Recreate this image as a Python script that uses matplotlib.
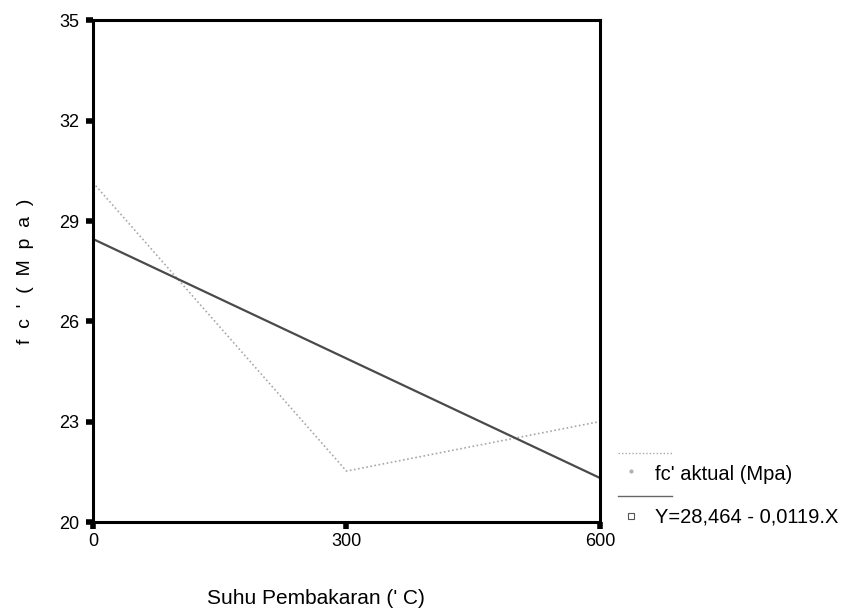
import matplotlib
matplotlib.use("Agg")
import matplotlib.pyplot as plt
from matplotlib.lines import Line2D

# suhu pembakaran (C) dan kuat tekan aktual (MPa)
suhu = [0, 300, 600]
fc_aktual = [30.15, 21.53, 23.01]

# garis regresi Y = 28,464 - 0,0119.X
a_reg = 28.464
b_reg = -0.0119
fc_regresi = [a_reg + b_reg * s for s in suhu]

yticks = [20, 23, 26, 29, 32, 35]
xticks = [0, 300, 600]

plt.rcParams['font.family'] = ['Liberation Sans', 'DejaVu Sans']

fig = plt.figure(figsize=(8.45, 6.13), dpi=100)
ax = fig.add_axes([0.110, 0.148, 0.600, 0.819])

ax.plot(suhu, fc_aktual, color='#a8a8a8', lw=1.2, ls=(0, (1, 1.5)))
ax.plot(suhu, fc_regresi, color='#4a4a4a', lw=1.6)

ax.set_xlim(0, 600)
ax.set_ylim(20, 35)
ax.set_xticks(xticks)
ax.set_yticks(yticks)
ax.tick_params(direction='out', length=5, width=4, color='black',
               labelsize=13, pad=3)
ax.tick_params(axis='y', pad=5)
for sp in ax.spines.values():
    sp.set_linewidth(2.2)
    sp.set_color('black')

ax.set_ylabel("f  c  '  (  M  p  a  )", fontsize=14, va='center')
ax.yaxis.set_label_coords(-0.134, 0.5)
ax.set_xlabel("Suhu Pembakaran (' C)", fontsize=15, va='center')
ax.xaxis.set_label_coords(0.44, -0.151)

# legenda di sisi kanan
def fx(px):
    return px / 845.0

def fy(py):
    return 1 - py / 613.0

fig.add_artist(Line2D([fx(618), fx(672)], [fy(453), fy(453)],
                      color='#a8a8a8', lw=1.0, ls=(0, (1, 1.5))))
fig.add_artist(Line2D([fx(631)], [fy(471)], marker='.', color='#b0b0b0',
                      ms=4, ls='none'))
fig.text(fx(655), fy(474), "fc' aktual (Mpa)", fontsize=14.5, va='center')

fig.add_artist(Line2D([fx(618), fx(672)], [fy(496), fy(496)],
                      color='#666666', lw=1.0))
fig.add_artist(Line2D([fx(631)], [fy(516)], marker='s', mfc='white',
                      mec='#555555', ms=4, mew=0.8, ls='none'))
fig.text(fx(655), fy(517), "Y=28,464 - 0,0119.X", fontsize=14.5, va='center')

fig.savefig("out.png", dpi=100, facecolor='white')
